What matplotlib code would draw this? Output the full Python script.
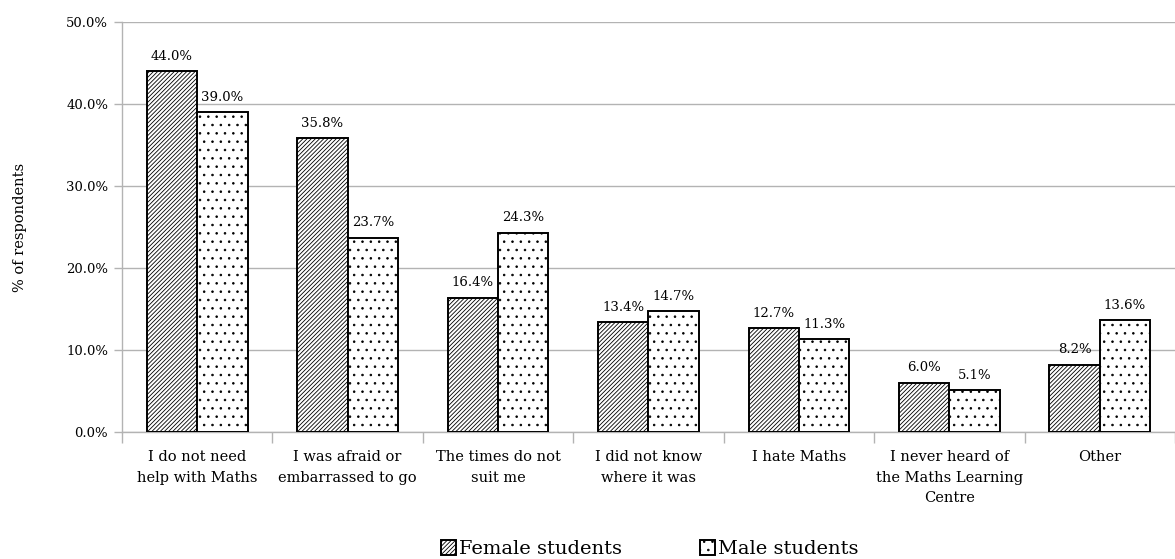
import numpy as np
import matplotlib.pyplot as plt

plt.rcParams['font.family'] = ['DejaVu Serif']
plt.rcParams['hatch.linewidth'] = 0.6

reasons = ['I do not need\nhelp with Maths', 'I was afraid or\nembarrassed to go',
           'The times do not\nsuit me', 'I did not know\nwhere it was', 'I hate Maths',
           'I never heard of\nthe Maths Learning\nCentre', 'Other']
female = [44.0, 35.8, 16.4, 13.4, 12.7, 6.0, 8.2]
male = [39.0, 23.7, 24.3, 14.7, 11.3, 5.1, 13.6]

fig = plt.figure(figsize=(11.75, 5.59), dpi=100)
ax = fig.add_axes([0.1038, 0.2272, 0.8962, 0.7334])

x = np.arange(len(reasons))
w = 0.335
b1 = ax.bar(x - w/2, female, w, facecolor='white', edgecolor='black', hatch='////////',
            linewidth=1.4, label='Female students', zorder=3)
b2 = ax.bar(x + w/2, male, w, facecolor='white', edgecolor='black', hatch='..',
            linewidth=1.4, label='Male students', zorder=3)

for bars, vals in ((b1, female), (b2, male)):
    for r, v in zip(bars, vals):
        ax.annotate(f'{v:.1f}%', (r.get_x() + r.get_width()/2, v), xytext=(0, 6),
                    textcoords='offset points', ha='center', va='bottom', fontsize=9.5)

ax.set_xlim(-0.5, len(reasons) - 0.5)
ax.set_ylim(0, 50)
ax.set_yticks(np.arange(0, 51, 10))
ax.set_yticklabels([f'{t:.1f}%' for t in range(0, 51, 10)], fontsize=9.5)
ax.yaxis.grid(True, color='#b3b3b3', linewidth=1, zorder=0)

# category labels in the middle, tick marks on the boundaries
ax.set_xticks(x)
ax.set_xticklabels(reasons, fontsize=10.5, linespacing=1.6)
ax.tick_params(axis='x', length=0, pad=13)
ax.set_xticks(np.arange(-0.5, len(reasons), 1), minor=True)
ax.tick_params(axis='x', which='minor', length=8, color='#b3b3b3', width=1)
ax.tick_params(axis='y', length=6, color='#b3b3b3', width=1, pad=4)

for s in ('top', 'right'):
    ax.spines[s].set_visible(False)
for s in ('left', 'bottom'):
    ax.spines[s].set_color('#b3b3b3')
    ax.spines[s].set_linewidth(1)

ax.set_ylabel('% of respondents', fontsize=10.5, labelpad=28)

fig.legend(handles=[b1, b2], loc='lower center', bbox_to_anchor=(0.553, -0.03), ncol=2,
           frameon=False, fontsize=14, handlelength=0.8, handleheight=0.8,
           handletextpad=0.15, columnspacing=4.0)

fig.savefig('out.png', dpi=100)
